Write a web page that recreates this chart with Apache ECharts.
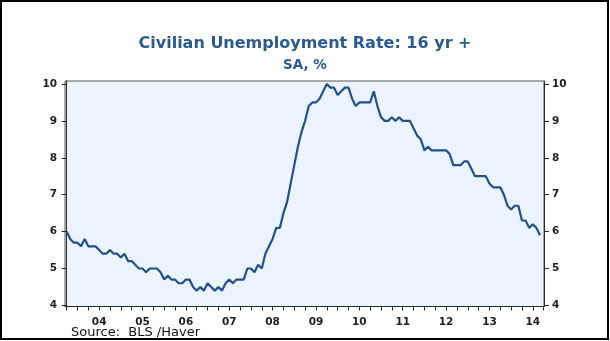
<!DOCTYPE html>
<html>
<head>
<meta charset="utf-8">
<script src="https://cdn.jsdelivr.net/npm/echarts@6/dist/echarts.min.js"></script>
<style>
  html, body { margin: 0; padding: 0; background: #ffffff; }
  #chart { width: 610px; height: 341px; }
</style>
</head>
<body>
<div id="chart"></div>
<script>
// Monthly civilian unemployment rate (16 yr +, SA, %), Oct 2003 through Sep 2014.
// Month index 0 = Oct 2003.
const startYear = 2003;
const startMonth = 10;
const rates = [
  6.0, 5.8, 5.7,                                                  // 2003 Oct-Dec
  5.7, 5.6, 5.8, 5.6, 5.6, 5.6, 5.5, 5.4, 5.4, 5.5, 5.4, 5.4,     // 2004
  5.3, 5.4, 5.2, 5.2, 5.1, 5.0, 5.0, 4.9, 5.0, 5.0, 5.0, 4.9,     // 2005
  4.7, 4.8, 4.7, 4.7, 4.6, 4.6, 4.7, 4.7, 4.5, 4.4, 4.5, 4.4,     // 2006
  4.6, 4.5, 4.4, 4.5, 4.4, 4.6, 4.7, 4.6, 4.7, 4.7, 4.7, 5.0,     // 2007
  5.0, 4.9, 5.1, 5.0, 5.4, 5.6, 5.8, 6.1, 6.1, 6.5, 6.8, 7.3,     // 2008
  7.8, 8.3, 8.7, 9.0, 9.4, 9.5, 9.5, 9.6, 9.8, 10.0, 9.9, 9.9,    // 2009
  9.7, 9.8, 9.9, 9.9, 9.6, 9.4, 9.5, 9.5, 9.5, 9.5, 9.8, 9.4,     // 2010
  9.1, 9.0, 9.0, 9.1, 9.0, 9.1, 9.0, 9.0, 9.0, 8.8, 8.6, 8.5,     // 2011
  8.2, 8.3, 8.2, 8.2, 8.2, 8.2, 8.2, 8.1, 7.8, 7.8, 7.8, 7.9,     // 2012
  7.9, 7.7, 7.5, 7.5, 7.5, 7.5, 7.3, 7.2, 7.2, 7.2, 7.0, 6.7,     // 2013
  6.6, 6.7, 6.7, 6.3, 6.3, 6.1, 6.2, 6.1, 5.9                     // 2014 Jan-Sep
];
// Year labels sit at mid-year (July) of each year
const yearLabels = ['04', '05', '06', '07', '08', '09', '10', '11', '12', '13', '14'];
const yTicks = [4, 5, 6, 7, 8, 9, 10];

// month index of July 2004 relative to the first observation
const firstJuly = (2004 - startYear) * 12 + (7 - startMonth);
const labelPositions = yearLabels.map((_, k) => firstJuly + 12 * k);
// quarterly tick marks (Oct, Jan, Apr, Jul)
const quarterTicks = [];
for (let t = 0; t <= rates.length; t += 3) quarterTicks.push(t);

const seriesData = rates.map((v, i) => [i, v]);

const fontFamily = '"DejaVu Sans", Verdana, sans-serif';
const axisColor = '#2b2b2b';
const labelStyle = { color: '#1e1e1e', fontSize: 10.5, fontWeight: 'bold', fontFamily: fontFamily };

const yAxisBase = {
  type: 'value',
  min: 3.97,
  max: 10.08,
  splitLine: { show: false },
  axisLine: { show: true, lineStyle: { color: axisColor, width: 1 } },
  axisTick: { show: true, length: 5, customValues: yTicks, lineStyle: { color: axisColor } },
  axisLabel: Object.assign({ customValues: yTicks, margin: 8 }, labelStyle)
};

const chart = echarts.init(document.getElementById('chart'), null, { renderer: 'canvas' });
chart.setOption({
  animation: false,
  backgroundColor: '#ffffff',
  title: [
    {
      text: 'Civilian Unemployment Rate: 16 yr +',
      left: 'center',
      top: 36,
      padding: 0,
      textStyle: { color: '#2c5a8e', fontSize: 16, fontWeight: 'bold', fontFamily: fontFamily }
    },
    {
      text: 'SA, %',
      left: 'center',
      top: 58,
      padding: 0,
      textStyle: { color: '#2c5a8e', fontSize: 13.5, fontWeight: 'bold', fontFamily: fontFamily }
    }
  ],
  grid: {
    left: 65, right: 66, top: 81, bottom: 34.5,
    show: true,
    backgroundColor: '#ebf4fe',
    borderColor: '#555555',
    borderWidth: 1
  },
  xAxis: {
    type: 'value',
    min: -0.45,
    max: 132.1,
    splitLine: { show: false },
    axisLine: { show: true, onZero: false, lineStyle: { color: axisColor, width: 1 } },
    axisTick: { show: true, length: 4, customValues: quarterTicks, lineStyle: { color: axisColor } },
    axisLabel: Object.assign({
      customValues: labelPositions,
      margin: 10,
      formatter: function (v) {
        const k = Math.round((v - firstJuly) / 12);
        return yearLabels[k] || '';
      }
    }, labelStyle)
  },
  yAxis: [
    Object.assign({ position: 'left' }, yAxisBase),
    Object.assign({ position: 'right' }, yAxisBase)
  ],
  series: [{
    type: 'line',
    data: seriesData,
    yAxisIndex: 0,
    showSymbol: false,
    symbol: 'none',
    lineStyle: { color: '#24508a', width: 2.2 }
  }],
  graphic: [
    {
      type: 'text',
      left: 71,
      top: 326,
      style: { text: 'Source:  BLS /Haver', fill: '#111111', fontSize: 13, fontFamily: fontFamily }
    },
    {
      type: 'rect',
      shape: { x: 1, y: 1, width: 607, height: 338 },
      style: { fill: 'none', stroke: '#000000', lineWidth: 2 },
      silent: true
    }
  ]
});
</script>
</body>
</html>
